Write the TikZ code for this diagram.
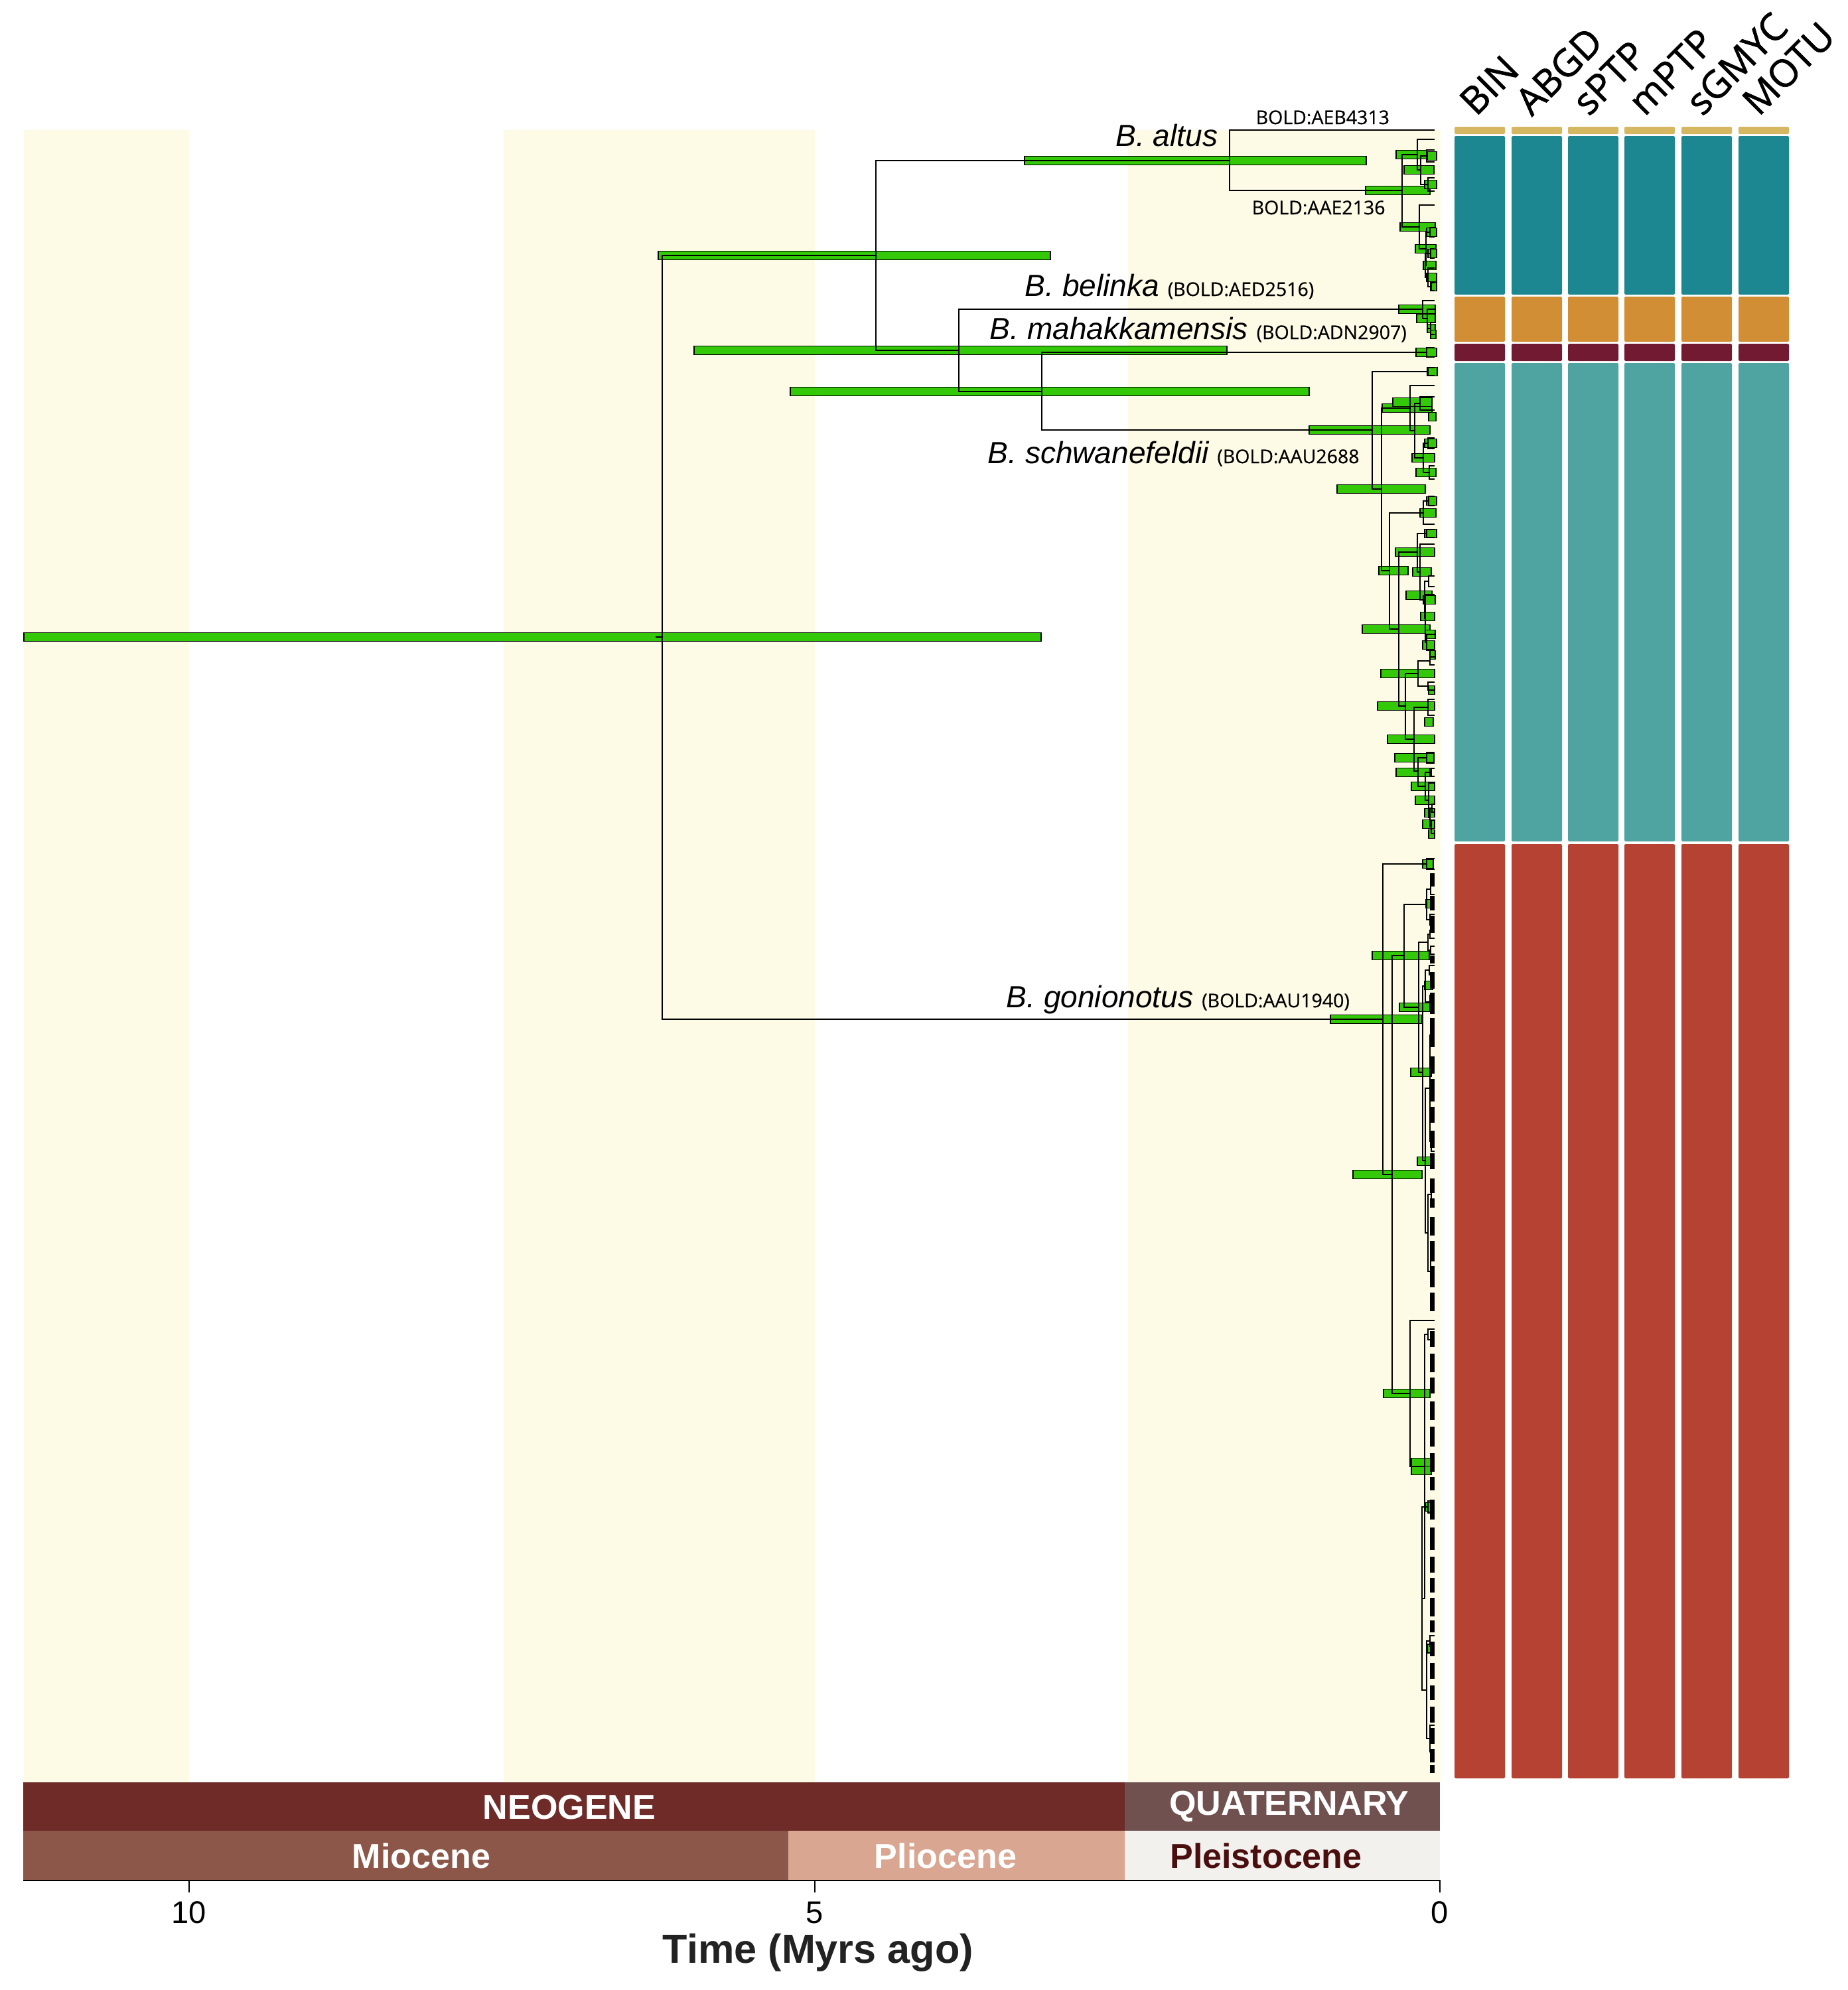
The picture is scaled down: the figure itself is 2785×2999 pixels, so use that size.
\documentclass[tikz,border=0pt]{standalone}
\usepackage{fontspec}
\setmainfont{Liberation Sans}
\newfontfamily\osans[FakeBold=0.5]{Open Sans}
\newfontfamily\osanshd[FakeBold=1.3]{Open Sans}
\definecolor{hpdg}{RGB}{51,201,8}
\definecolor{ybg}{RGB}{253,251,230}
\definecolor{ctan}{RGB}{212,183,96}
\definecolor{cteal}{RGB}{28,135,144}
\definecolor{corange}{RGB}{209,142,53}
\definecolor{cmaroon}{RGB}{115,26,51}
\definecolor{clteal}{RGB}{79,163,161}
\definecolor{cred}{RGB}{181,66,51}
\definecolor{neog}{RGB}{110,43,40}
\definecolor{quat}{RGB}{113,81,80}
\definecolor{mioc}{RGB}{140,87,73}
\definecolor{plio}{RGB}{217,166,146}
\definecolor{plei}{RGB}{242,241,238}
\definecolor{pleitxt}{RGB}{74,14,14}
\newcommand\tx{2162}
\newcommand\hpdb[3]{\filldraw[hpd] (#1,#3-6.5) rectangle (#2,#3+6.5);}
\newcommand\elbw[5]{\draw[brn] (#3,#2) -| (#1,#4) -- (#5,#4);}
\newcommand\bld[1]{{\osans\upshape\fontsize{8.1}{9}\selectfont #1}}
\newcommand\spf{\fontsize{13.1}{15}\selectfont\itshape}
\begin{document}
\begin{tikzpicture}[x=0.01cm,y=-0.01cm,
  hpd/.style={fill=hpdg,draw=black,line width=0.55pt},
  brn/.style={draw=black,line width=0.6pt,line join=miter},
  spl/.style={font=\spf, inner sep=0pt},
  smal/.style={font=\osans\fontsize{8.1}{9}\selectfont, inner sep=0pt},
  colhd/.style={font=\osanshd\fontsize{16.2}{18}\selectfont, rotate=45, anchor=base west, inner sep=0pt},
  gtxt/.style={font=\fontsize{14.8}{16}\selectfont\bfseries, inner sep=0pt},
  ticklab/.style={font=\fontsize{13.4}{15}\selectfont, inner sep=0pt}]
\useasboundingbox (0,0) rectangle (2785,2999);
\fill[white] (0,0) rectangle (2785,2999);
% background stripes
\fill[ybg] (36,196) rectangle (285,2686);
\fill[ybg] (759,196) rectangle (1228,2686);
\fill[ybg] (1700,196) rectangle (2171,2686);
% delimitation columns
\foreach \xl in {2192,2278,2363,2448,2534,2620}{
  \fill[ctan,rounded corners=0.6pt] (\xl,191) rectangle ++(76,11);
  \fill[cteal,rounded corners=0.6pt] (\xl,205) rectangle ++(76,239);
  \fill[corange,rounded corners=0.6pt] (\xl,447) rectangle ++(76,68);
  \fill[cmaroon,rounded corners=0.6pt] (\xl,518) rectangle ++(76,26);
  \fill[clteal,rounded corners=0.6pt] (\xl,547) rectangle ++(76,721);
  \fill[cred,rounded corners=0.6pt] (\xl,1272) rectangle ++(76,1408);
}
\node[colhd] (hBIN) at (2224,177) {BIN};
\node[colhd] (hABGD) at (2308,177) {ABGD};
\node[colhd] (hsPTP) at (2394,177) {sPTP};
\node[colhd] (hmPTP) at (2478,177) {mPTP};
\node[colhd] (hsGMYC) at (2565,177) {sGMYC};
\node[colhd] (hMOTU) at (2650,177) {MOTU};
% time scale
\fill[neog] (35,2686) rectangle (1695,2759);
\fill[quat] (1695,2686) rectangle (2170,2759);
\fill[mioc] (35,2759) rectangle (1188,2833);
\fill[plio] (1188,2759) rectangle (1695,2833);
\fill[plei] (1695,2759) rectangle (2170,2833);
\node[gtxt,text=white] (tNeo) at (858,2724) {NEOGENE};
\node[gtxt,text=white] (tQua) at (1943,2722) {QUATERNARY};
\node[gtxt,text=white] (tMio) at (635,2797) {Miocene};
\node[gtxt,text=white] (tPlio) at (1425,2797) {Pliocene};
\node[gtxt,text=pleitxt] (tPlei) at (1908,2797) {Pleistocene};
\draw[line width=0.7pt] (35,2834) -- (2171,2834);
\foreach \xt/\lb in {285/10,1228/5,2170/0}{
  \draw[line width=0.55pt] (\xt,2834) -- (\xt,2852);
  \node[ticklab] at (\xt,2882) {\lb};
}
\node[font=\fontsize{17.4}{19}\selectfont\bfseries, text={rgb,255:red,34;green,34;blue,34}, anchor=base, inner sep=0pt] (ttl) at (1233,2958) {Time (Myrs ago)};
% ---------------- HPD bars ----------------
\hpdb{36}{1569}{960}
\hpdb{992}{1583}{385}
\hpdb{1046}{1849}{528}
\hpdb{1191}{1973}{590}
\hpdb{1544}{2059}{242}
\hpdb{2058}{2155}{287}
\hpdb{2108}{2163}{466}
\hpdb{2134}{2165}{531}
\hpdb{1973}{2155}{648}
\hpdb{2005}{2143}{1536}
% AAE2136 clade
\hpdb{2104}{2150}{233}
\hpdb{2116}{2161}{256}
\hpdb{2151}{2165}{235}
\hpdb{2147}{2165}{278}
\hpdb{2110}{2163}{342}
\hpdb{2133}{2164}{375}
\hpdb{2150}{2165}{350}
\hpdb{2145}{2164}{400}
\hpdb{2152}{2165}{382}
\hpdb{2150}{2165}{418}
\hpdb{2156}{2165}{432}
% belinka
\hpdb{2135}{2163}{480}
\hpdb{2151}{2163}{495}
\hpdb{2156}{2164}{504}
% schwanefeldii
\hpdb{2151}{2166}{560}
\hpdb{2015}{2148}{737}
\hpdb{2083}{2158}{615}
\hpdb{2099}{2158}{606}
\hpdb{2153}{2164}{628}
\hpdb{2128}{2162}{690}
\hpdb{2147}{2165}{668}
\hpdb{2134}{2164}{712}
\hpdb{2078}{2122}{860}
\hpdb{2129}{2157}{862}
\hpdb{2140}{2164}{773}
\hpdb{2150}{2165}{755}
\hpdb{2053}{2155}{948}
\hpdb{2103}{2162}{832}
\hpdb{2147}{2165}{804}
\hpdb{2119}{2158}{897}
\hpdb{2145}{2163}{904}
\hpdb{2141}{2162}{929}
\hpdb{2148}{2163}{956}
\hpdb{2144}{2162}{972}
\hpdb{2155}{2163}{987}
\hpdb{2076}{2162}{1064}
\hpdb{2081}{2162}{1015}
\hpdb{2153}{2162}{1040}
\hpdb{2147}{2160}{1088}
\hpdb{2091}{2162}{1114}
\hpdb{2102}{2161}{1142}
\hpdb{2104}{2157}{1164}
\hpdb{2127}{2162}{1185}
\hpdb{2133}{2162}{1206}
\hpdb{2147}{2162}{1225}
\hpdb{2144}{2162}{1242}
\hpdb{2153}{2162}{1257}
% gonionotus
\hpdb{2144}{2160}{1302}
\hpdb{2039}{2143}{1770}
\hpdb{2068}{2154}{1440}
\hpdb{2149}{2159}{1362}
\hpdb{2109}{2155}{1518}
\hpdb{2147}{2159}{1485}
\hpdb{2126}{2157}{1616}
\hpdb{2136}{2160}{1750}
\hpdb{2085}{2155}{2100}
\hpdb{2127}{2157}{2204}
\hpdb{2127}{2157}{2216}
\hpdb{2148}{2157}{2271}
\hpdb{2151}{2160}{2484}
% ---------------- branches ----------------
\coordinate (R) at (998,960);
\coordinate (U) at (1320,385);
\coordinate (G) at (2084,1536);
\coordinate (A) at (1853,242);
\coordinate (B) at (1445,528);
\coordinate (tAEB) at (2162,196);
\coordinate (C) at (2113,287);
\coordinate (D) at (2144,466);
\coordinate (E) at (1570,590);
\coordinate (F) at (2150,531);
\coordinate (S) at (2068,648);
\draw[brn] (988,960) -- (R);
\draw[brn] (R) |- (U);
\draw[brn] (R) |- (G);
\draw[brn] (U) |- (A);
\draw[brn] (U) |- (B);
\draw[brn] (A) |- (tAEB);
\draw[brn] (A) |- (C);
\draw[brn] (B) |- (D);
\draw[brn] (B) |- (E);
\draw[brn] (E) |- (F);
\draw[brn] (E) |- (S);
% AAE2136 clade
\elbw{2113}{233}{2136}{342}{2139}
\elbw{2136}{210}{\tx}{256}{2141}
\elbw{2141}{235}{2150}{278}{2152}
\elbw{2150}{226}{\tx}{244}{\tx}
\elbw{2152}{268}{\tx}{288}{\tx}
\elbw{2139}{309}{\tx}{375}{2149}
\elbw{2149}{350}{2155}{400}{2148}
\elbw{2155}{343}{\tx}{357}{\tx}
\elbw{2148}{382}{2156}{418}{2152}
\elbw{2156}{375}{\tx}{389}{\tx}
\elbw{2152}{404}{\tx}{432}{2157}
\elbw{2157}{426}{\tx}{438}{\tx}
% belinka
\elbw{2144}{453}{\tx}{480}{2151}
\elbw{2151}{466}{\tx}{495}{2156}
\elbw{2156}{486}{\tx}{504}{\tx}
% mahakkamensis
\elbw{2150}{524}{\tx}{538}{\tx}
% schwanefeldii
\elbw{2068}{560}{2152}{737}{2082}
\elbw{2152}{554}{\tx}{566}{\tx}
\elbw{2082}{615}{2125}{860}{2094}
\elbw{2125}{581}{\tx}{649}{2132}
\elbw{2132}{608}{2140}{690}{2145}
\elbw{2140}{598}{\tx}{618}{\tx}
\elbw{2145}{668}{2152}{712}{2154}
\elbw{2152}{660}{\tx}{676}{\tx}
\elbw{2154}{702}{\tx}{722}{\tx}
\elbw{2094}{773}{2145}{948}{2108}
\elbw{2145}{755}{2153}{790}{\tx}
\elbw{2153}{748}{\tx}{762}{\tx}
\elbw{2108}{832}{2136}{1064}{2118}
\elbw{2136}{804}{2150}{862}{2140}
\elbw{2150}{798}{\tx}{810}{\tx}
\elbw{2140}{820}{\tx}{904}{2147}
\elbw{2147}{876}{2153}{932}{2148}
\elbw{2153}{868}{\tx}{884}{\tx}
\elbw{2148}{896}{\tx}{968}{2150}
\elbw{2150}{956}{\tx}{980}{\tx}
\elbw{2118}{1015}{2137}{1114}{2131}
\elbw{2137}{996}{2155}{1034}{2152}
\elbw{2155}{990}{\tx}{1002}{\tx}
\elbw{2152}{1028}{\tx}{1040}{\tx}
\elbw{2131}{1066}{2152}{1162}{2137}
\elbw{2152}{1054}{\tx}{1078}{\tx}
\elbw{2137}{1142}{2150}{1185}{2148}
\elbw{2150}{1134}{\tx}{1150}{\tx}
\elbw{2148}{1164}{2155}{1206}{2153}
\elbw{2155}{1158}{\tx}{1170}{\tx}
\elbw{2153}{1180}{\tx}{1232}{2155}
\elbw{2155}{1218}{2158}{1246}{2157}
\elbw{2158}{1212}{\tx}{1224}{\tx}
\elbw{2157}{1236}{\tx}{1256}{\tx}
% gonionotus
\elbw{2084}{1302}{2150}{1770}{2098}
\elbw{2150}{1294}{\tx}{1310}{\tx}
\elbw{2098}{1440}{2116}{2100}{2125}
\elbw{2116}{1363}{2150}{1518}{2138}
\elbw{2150}{1340}{2156}{1386}{2155}
\elbw{2156}{1332}{\tx}{1348}{\tx}
\elbw{2155}{1378}{\tx}{1394}{\tx}
\elbw{2138}{1420}{2152}{1616}{2144}
\elbw{2152}{1408}{2155}{1432}{2156}
\elbw{2155}{1402}{\tx}{1414}{\tx}
\elbw{2156}{1426}{\tx}{1438}{\tx}
\elbw{2144}{1486}{2148}{1749}{2148}
\elbw{2148}{1462}{2154}{1510}{2155}
\elbw{2154}{1455}{\tx}{1469}{\tx}
\elbw{2155}{1500}{\tx}{1520}{\tx}
\elbw{2148}{1640}{2155}{1858}{2152}
\elbw{2155}{1560}{2157}{1720}{2157}
\elbw{2157}{1545}{\tx}{1575}{\tx}
\elbw{2157}{1705}{\tx}{1735}{\tx}
\elbw{2152}{1800}{2157}{1916}{2156}
\elbw{2157}{1790}{\tx}{1810}{\tx}
\elbw{2156}{1900}{\tx}{1932}{\tx}
\elbw{2125}{1990}{\tx}{2210}{2147}
\elbw{2147}{2011}{2152}{2409}{2143}
\elbw{2152}{2003}{\tx}{2019}{\tx}
\elbw{2143}{2271}{2152}{2547}{2150}
\elbw{2152}{2262}{\tx}{2280}{\tx}
\elbw{2150}{2473}{2155}{2620}{2155}
\elbw{2155}{2465}{\tx}{2481}{\tx}
\elbw{2155}{2600}{\tx}{2640}{\tx}
% dense tips
\foreach \a/\b in {1316/1336,1350/1372,1380/1406,1440/1452,1465/1490,1496/1528,1534/1578,1592/1618,1626/1660,1668/1692,1704/1730,1738/1762,1776/1798,1806/1820,1834/1862,1870/1900,1908/1940,1948/1976,2006/2030,2040/2068,2076/2100,2112/2140,2150/2180,2190/2218,2226/2246,2260/2290,2302/2336,2346/2370,2378/2400,2408/2436,2442/2460,2474/2496,2506/2530,2540/2562,2572/2596,2604/2628,2636/2656,2660/2672}
  {\fill[black] (2155,\a) rectangle (2162,\b);}
% ---------------- labels ----------------
\node[smal,anchor=base west] (lAEB) at (1892,187) {BOLD:AEB4313};
\node[spl,anchor=base east] (lalt) at (1836,220) {B. altus};
\node[smal,anchor=base west] (lAAE) at (1886,323) {BOLD:AAE2136};
\node[spl,anchor=base west] (lbel) at (1544,446) {B. belinka \bld{(BOLD:AED2516)}};
\node[spl,anchor=base west] (lmah) at (1491,511) {B. mahakkamensis \bld{(BOLD:ADN2907)}};
\node[spl,anchor=base west] (lsch) at (1488,698) {B. schwanefeldii \bld{(BOLD:AAU2688}};
\node[spl,anchor=base west] (lgon) at (1516,1518) {B. gonionotus \bld{(BOLD:AAU1940)}};
\end{tikzpicture}
\end{document}
